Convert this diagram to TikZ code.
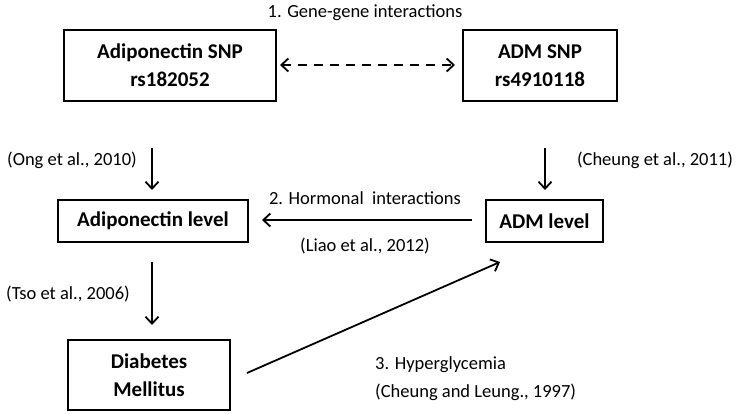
\documentclass[tikz,border=0pt]{standalone}
\usepackage{fontspec}
\setmainfont{Carlito}
\usetikzlibrary{arrows.meta}
\begin{document}
\begin{tikzpicture}[x=1pt,y=-1pt,
  box/.style={draw,line width=2pt,inner sep=0pt,align=center,font=\fontsize{21}{28}\selectfont\bfseries},
  lbl/.style={inner sep=0pt,font=\fontsize{18.5}{22}\selectfont},
  arr/.style={line width=1.8pt,-{Straight Barb[length=7pt,width=13pt,line width=1.8pt]}},
  darr/.style={line width=1.8pt,dash pattern=on 9pt off 7pt,{Straight Barb[length=7pt,width=13pt,line width=1.8pt]}-{Straight Barb[length=7pt,width=13pt,line width=1.8pt]}}]
\useasboundingbox (0,0) rectangle (747,413);
\node[box,minimum width=212pt,minimum height=71pt] (snp1) at (170,65.5) {Adiponectin SNP\\rs182052};
\node[box,minimum width=154pt,minimum height=71pt] (snp2) at (540,65.5) {ADM SNP\\rs4910118};
\node[box,minimum width=190pt,minimum height=42pt] (alev) at (153,221) {Adiponectin level};
\node[box,minimum width=117pt,minimum height=42pt] (mlev) at (544.5,221) {ADM level};
\node[box,minimum width=162pt,minimum height=70pt] (dm) at (149,375) {Diabetes\\Mellitus};

\coordinate (d1) at (280,65);
\coordinate (d2) at (455,65);
\coordinate (l1) at (152,148);
\coordinate (l2) at (152,190);
\coordinate (r1) at (545,148);
\coordinate (r2) at (545,190);
\coordinate (h1) at (472,220);
\coordinate (h2) at (262,220);
\coordinate (t1) at (152,262);
\coordinate (t2) at (152,325);
\coordinate (g1) at (247,373);
\coordinate (g2) at (500,262);

\draw[darr] (d1) -- (d2);
\draw[arr] (l1) -- (l2);
\draw[arr] (r1) -- (r2);
\draw[arr] (h1) -- (h2);
\draw[arr] (t1) -- (t2);
\draw[arr] (g1) -- (g2);

\node[lbl] (gg) at (365,13) {1. Gene-gene interactions};
\node[lbl] (ong) at (72,160) {(Ong et al., 2010)};
\node[lbl] (che) at (655,160) {(Cheung et al., 2011)};
\node[lbl] (hor) at (365,198) {2. Hormonal~ interactions};
\node[lbl] (lia) at (365,246) {(Liao et al., 2012)};
\node[lbl] (tso) at (68,294) {(Tso et al., 2006)};
\node[lbl,anchor=west] (hyp) at (375,365) {3. Hyperglycemia};
\node[lbl,anchor=west] (cl) at (375,392) {(Cheung and Leung., 1997)};
\end{tikzpicture}
\end{document}
